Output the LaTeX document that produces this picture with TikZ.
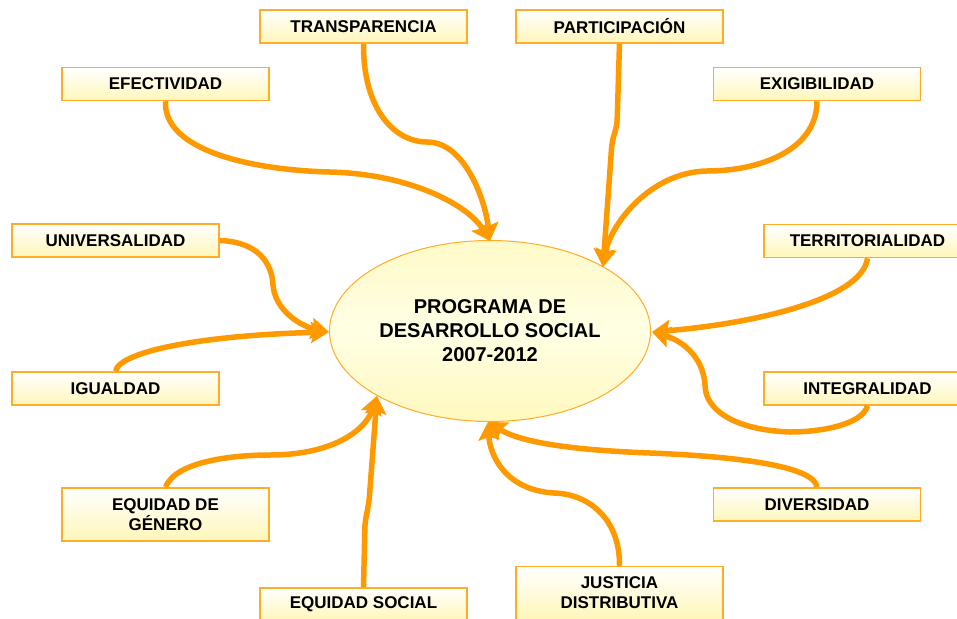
\documentclass[tikz,border=0pt]{standalone}
\usepackage{fontspec}
\setmainfont{Liberation Sans}
\usetikzlibrary{arrows.meta,shapes.geometric}
\definecolor{conn}{RGB}{255,153,0}
\definecolor{boxline}{RGB}{255,172,40}
\definecolor{boxbot}{RGB}{255,246,185}
\definecolor{elltop}{RGB}{255,250,200}
\definecolor{ellmid}{RGB}{255,255,228}
\definecolor{ellbot}{RGB}{255,248,190}
\tikzset{
  valbox/.style={draw=boxline, line width=1.5pt, rectangle, minimum width=207pt, minimum height=33pt,
    inner sep=0pt, top color=white, bottom color=boxbot, align=center,
    font=\bfseries\fontsize{17}{20}\selectfont},
  centre/.style={draw=boxline, line width=1pt, ellipse, minimum width=321pt, minimum height=181pt,
    inner sep=0pt, top color=elltop, bottom color=ellbot, middle color=ellmid, align=center,
    font=\bfseries\fontsize{20}{24}\selectfont},
  link/.style={draw=conn, line width=5.5pt, -{Stealth[length=18pt,width=21pt,inset=3pt]}},
}
\begin{document}
\begin{tikzpicture}[x=1pt,y=-1pt]
\useasboundingbox (0,0) rectangle (957,618);
\clip (0,0) rectangle (957,618);
\fill[white] (0,0) rectangle (957,618);
\node[centre] (c) at (490,331) {PROGRAMA DE\\DESARROLLO SOCIAL\\2007-2012};
\node[valbox] (tra) at (363.5,26.5) {TRANSPARENCIA};
\node[valbox] (par) at (619.5,26.5) {PARTICIPACIÓN};
\node[valbox] (efe) at (165.5,84) {EFECTIVIDAD};
\node[valbox] (exi) at (817,84) {EXIGIBILIDAD};
\node[valbox] (uni) at (115.5,240.5) {UNIVERSALIDAD};
\node[valbox] (ter) at (867.5,241) {TERRITORIALIDAD};
\node[valbox] (igu) at (115.5,388.5) {IGUALDAD};
\node[valbox] (int) at (867.5,388.5) {INTEGRALIDAD};
\node[valbox, minimum height=53pt] (gen) at (165.5,514.5) {EQUIDAD DE\\GÉNERO};
\node[valbox] (div) at (817,504.5) {DIVERSIDAD};
\node[valbox] (soc) at (363.5,604.5) {EQUIDAD SOCIAL};
\node[valbox, minimum height=53pt] (jus) at (619.5,593) {JUSTICIA\\DISTRIBUTIVA};
% arrow tips on the ellipse
\coordinate (tA) at (490,241);
\coordinate (tB) at (603,267);
\coordinate (tC) at (652,332);
\coordinate (tD) at (488,422);
\coordinate (tE) at (377,396);
\coordinate (tF) at (329,332);
% connectors
\draw[link] (efe.south) .. controls (163,150) and (250,170) .. (330,172) .. controls (410,174) and (468,205) .. (tA);
\draw[link] (tra.south) .. controls (363,110) and (395,142) .. (427,142) .. controls (465,142) and (485,200) .. (tA);
\draw[link, rounded corners=6pt] (par.south) -- (617,125) -- (612,142) -- (tB);
\draw[link] (exi.south) .. controls (817,150) and (760,171) .. (707,171) .. controls (650,172) and (610,225) .. (tB);
\draw[link] (ter.south) .. controls (862,300) and (750,324) .. (tC);
\draw[link] (int.south) .. controls (862,425) and (820,432) .. (790,432) .. controls (735,430) and (705,410) .. (705,385) .. controls (703,355) and (680,340) .. (tC);
\draw[link] (div.north) .. controls (815,468) and (750,457) .. (650,453) .. controls (570,450) and (520,442) .. (tD);
\draw[link] (jus.north) .. controls (620,520) and (590,494) .. (554,493) .. controls (505,490) and (490,455) .. (tD);
\draw[link, rounded corners=6pt] (soc.north) -- (365,522) -- (369,502) -- (tE);
\draw[link] (gen.north) .. controls (175,462) and (230,455) .. (270,455) .. controls (330,455) and (365,432) .. (tE);
\draw[link] (igu.north) .. controls (120,350) and (210,335) .. (tF);
\draw[link] (uni.east) .. controls (260,242) and (272,265) .. (273,285) .. controls (275,310) and (300,326) .. (tF);
\end{tikzpicture}
\end{document}
